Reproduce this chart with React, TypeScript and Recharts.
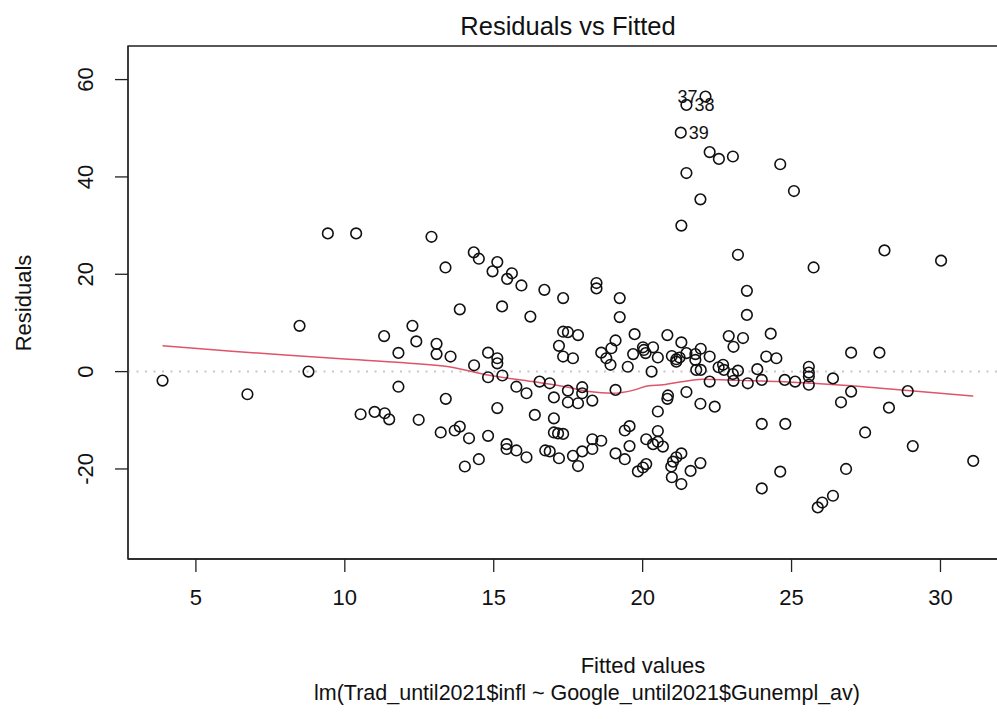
import React from 'react';
import {
  ComposedChart,
  Scatter,
  Line,
  XAxis,
  YAxis,
  ReferenceLine,
  ReferenceArea,
} from 'recharts';

const FONT = '"Liberation Sans", Arial, Helvetica, sans-serif';

// fitted values / residuals
const fitted = [
  3.88, 6.73, 8.48, 8.78, 9.43, 10.38, 10.53, 11.0, 11.32, 11.34, 11.49, 11.8, 11.8, 12.27, 12.4, 12.48,
  12.91, 14.33, 14.5, 13.38, 15.12, 14.96, 15.61, 15.45, 15.93, 16.7, 18.45, 18.45, 17.33, 19.23,
  13.86, 15.28, 16.23, 19.23, 13.08, 13.08, 13.55, 13.39, 14.34, 14.81, 15.12, 15.12, 14.81, 15.29,
  15.76, 16.1, 16.54, 16.88, 17.19, 17.33, 17.49, 17.83, 17.33, 17.66, 17.49, 17.97, 17.97, 17.02,
  18.61, 18.78, 18.95, 19.09, 18.92, 19.5, 19.73, 20.01, 20.1, 19.68, 20.3, 19.09,
  17.49, 17.83, 18.31, 15.12, 16.38, 17.02, 13.22, 13.69, 13.86, 14.17, 14.81, 15.43, 15.43, 15.76,
  16.1, 14.5, 14.03, 17.02, 17.16, 17.33, 16.73, 16.88, 17.19, 17.66, 17.83, 17.97, 18.31, 18.31,
  18.61, 19.09, 19.4, 19.56, 19.4, 19.56, 20.12, 19.84, 20.01, 20.12,
  22.25, 22.56, 23.03, 24.62, 25.08, 21.47, 21.94, 21.3,
  28.12, 30.02, 27.0, 27.95, 26.39, 27.0, 28.9, 26.66, 28.27, 27.47, 29.07, 31.1, 26.83, 26.39,
  23.2, 25.74, 23.5, 23.5, 20.83, 21.3, 22.89, 23.37, 23.05, 24.3, 20.04, 20.35, 20.51, 20.98,
  21.13, 21.13, 21.24, 21.47, 21.77, 21.95, 21.77, 21.8, 21.95, 22.25, 22.55, 22.7, 22.73, 22.25,
  23.03, 23.2, 23.05, 23.53, 23.85, 24.0, 24.15, 24.49, 24.77, 25.12, 25.58, 25.58, 25.58, 25.58,
  20.85, 21.47,
  20.83, 21.94, 22.42, 20.51, 20.51, 20.35, 20.51, 20.68, 21.3, 21.13, 21.02, 20.96, 20.98, 21.3,
  21.61, 21.94, 24.0, 24.79, 24.62, 24.0, 26.03, 25.88,
];

const residuals = [
  -1.85, -4.65, 9.4, 0, 28.4, 28.4, -8.76, -8.28, 7.3, -8.55, -9.8, 3.84, -3.1, 9.4, 6.2, -9.9,
  27.7, 24.5, 23.2, 21.4, 22.5, 20.6, 20.2, 19.05, 17.7, 16.8, 18.2, 17.1, 15.1, 15.1,
  12.8, 13.4, 11.3, 11.2, 5.7, 3.6, 3.1, -5.6, 1.3, 3.9, 2.75, 1.7, -1.16, -0.8,
  -3.1, -4.45, -2.05, -2.4, 5.3, 8.2, 8.1, 7.5, 3.1, 2.75, -3.9, -3.2, -4.45, -5.3,
  3.9, 2.75, 4.8, 6.4, 1.4, 1.0, 7.7, 5.0, 3.8, 3.6, 0, -3.76,
  -6.3, -6.5, -5.95, -7.5, -8.9, -9.6, -12.5, -12.1, -11.3, -13.7, -13.2, -14.9, -15.9, -16.2,
  -17.6, -18.0, -19.5, -12.5, -12.7, -12.8, -16.2, -16.4, -17.8, -17.3, -19.4, -16.4, -15.9, -13.9,
  -14.2, -16.8, -18.0, -15.3, -12.1, -11.2, -13.9, -20.5, -19.7, -19.0,
  45.1, 43.7, 44.2, 42.6, 37.1, 40.8, 35.4, 30.0,
  24.9, 22.8, 3.9, 3.9, -1.4, -4.1, -4.0, -6.3, -7.4, -12.5, -15.3, -18.35, -20.0, -25.5,
  24.0, 21.4, 16.6, 11.65, 7.5, 6.0, 7.3, 6.9, 5.1, 7.8, 4.45, 5.0, 2.9, 3.2,
  2.55, 2.05, 2.9, 3.8, 3.6, 4.7, 2.4, 0.35, 0.35, 3.1, 0.9, 1.4, 0.35, -2.05,
  -0.5, 0.2, -1.9, -2.4, 0.5, -1.7, 3.1, 2.75, -1.7, -2.05, 1.0, -0.2, -1.0, -2.7,
  -4.9, -4.2,
  -5.6, -6.6, -7.2, -8.2, -12.2, -14.9, -14.4, -15.4, -16.8, -17.6, -18.5, -19.5, -21.7, -23.1,
  -20.4, -18.8, -10.75, -10.75, -20.55, -24.0, -26.9, -27.9,
];

// the three points R labels by observation number
const labelledFitted = [22.11, 21.47, 21.28];
const labelledResid = [56.5, 54.8, 49.1];
const labelledIds = ['37', '38', '39'];

// red smoother
const smoothFitted = [3.88, 6, 8, 10, 12, 13.5, 14.8, 16.3, 17.4, 18.2, 19.0, 19.7, 20.2, 20.7, 21.3, 22.0, 23.3, 24.6, 25.7, 27.0, 28.9, 31.1];
const smoothResid = [5.3, 4.3, 3.4, 2.6, 1.8, 1.0, -0.7, -2.05, -3.1, -4.1, -4.45, -3.8, -2.9, -2.7, -2.1, -1.56, -1.8, -2.05, -2.4, -2.9, -3.9, -5.0];

const xTicks = [5, 10, 15, 20, 25, 30];
const yTicks = [-20, 0, 20, 40, 60];

const X_DOMAIN: [number, number] = [2.72, 32.2];
const Y_DOMAIN: [number, number] = [-38.5, 66.9];

const points = fitted.map((x, i) => ({ x, y: residuals[i] }));
const labelled = labelledFitted.map((x, i) => ({ x, y: labelledResid[i], id: labelledIds[i] }));
const smooth = smoothFitted.map((x, i) => ({ x, y: smoothResid[i] }));

const labelMid = (Math.min(...labelledFitted) + Math.max(...labelledFitted)) / 2;

const AXIS_COLOR = '#222';

const Circle = (props: any) => {
  const { cx, cy } = props;
  if (cx == null || cy == null) return null;
  return <circle cx={cx} cy={cy} r={5.3} fill="none" stroke="#111" strokeWidth={1.6} />;
};

const LabelledCircle = (props: any) => {
  const { cx, cy, payload } = props;
  if (cx == null || cy == null) return null;
  const left = payload.x > labelMid;
  return (
    <g>
      <circle cx={cx} cy={cy} r={5.3} fill="none" stroke="#111" strokeWidth={1.6} />
      <text
        x={left ? cx - 8 : cx + 8}
        y={cy}
        dominantBaseline="central"
        textAnchor={left ? 'end' : 'start'}
        fontSize={18}
        fontFamily={FONT}
        fill="#111"
      >
        {payload.id}
      </text>
    </g>
  );
};

const XTick = (props: any) => {
  const { x, y, payload } = props;
  return (
    <text x={x} y={y} dy="0.71em" textAnchor="middle" fontSize={22} fontFamily={FONT} fill="#111">
      {payload.value}
    </text>
  );
};

const YTick = (props: any) => {
  const { x, y, payload } = props;
  return (
    <text
      x={x}
      y={y}
      transform={`rotate(-90, ${x}, ${y})`}
      textAnchor="middle"
      fontSize={22}
      fontFamily={FONT}
      fill="#111"
    >
      {payload.value}
    </text>
  );
};

export default function App() {
  return (
    <div
      style={{
        position: 'fixed',
        left: 0,
        top: 0,
        width: 997,
        height: 719,
        overflow: 'hidden',
        background: '#fff',
      }}
    >
      <ComposedChart width={1040} height={719} margin={{ top: 46, right: 34, bottom: 0, left: -2 }}>
        <XAxis
          type="number"
          dataKey="x"
          domain={X_DOMAIN}
          ticks={xTicks}
          allowDataOverflow
          interval={0}
          height={160}
          tickSize={13}
          tickMargin={17}
          tick={<XTick />}
          axisLine={{ stroke: AXIS_COLOR, strokeWidth: 1.3 }}
          tickLine={{ stroke: AXIS_COLOR, strokeWidth: 1.3 }}
        />
        <YAxis
          type="number"
          dataKey="y"
          domain={Y_DOMAIN}
          ticks={yTicks}
          allowDataOverflow
          interval={0}
          width={130}
          tickSize={13}
          tickMargin={22}
          tick={<YTick />}
          axisLine={{ stroke: AXIS_COLOR, strokeWidth: 1.3 }}
          tickLine={{ stroke: AXIS_COLOR, strokeWidth: 1.3 }}
        />
        <ReferenceArea
          x1={X_DOMAIN[0]}
          x2={X_DOMAIN[1]}
          y1={Y_DOMAIN[0]}
          y2={Y_DOMAIN[1]}
          fill="none"
          fillOpacity={0}
          stroke={AXIS_COLOR}
          strokeWidth={1.3}
        />
        <ReferenceLine y={0} stroke="#c8c8c8" strokeWidth={2} strokeDasharray="2 6.5" />
        <Scatter data={points} shape={<Circle />} isAnimationActive={false} />
        <Scatter data={labelled} shape={<LabelledCircle />} isAnimationActive={false} />
        <Line
          data={smooth}
          dataKey="y"
          type="monotone"
          stroke="#DF536B"
          strokeWidth={1.5}
          dot={false}
          activeDot={false}
          isAnimationActive={false}
        />
      </ComposedChart>
      <svg
        width={997}
        height={719}
        style={{ position: 'absolute', left: 0, top: 0, pointerEvents: 'none' }}
      >
        <text x={568} y={35} textAnchor="middle" fontSize={25.5} fontFamily={FONT} fill="#111">
          Residuals vs Fitted
        </text>
        <text x={643} y={673} textAnchor="middle" fontSize={22} fontFamily={FONT} fill="#111">
          Fitted values
        </text>
        <text x={587} y={700} textAnchor="middle" fontSize={21.5} fontFamily={FONT} fill="#111">
          lm(Trad_until2021$infl ~ Google_until2021$Gunempl_av)
        </text>
        <text
          x={31}
          y={303}
          transform="rotate(-90, 31, 303)"
          textAnchor="middle"
          fontSize={22}
          fontFamily={FONT}
          fill="#111"
        >
          Residuals
        </text>
      </svg>
    </div>
  );
}
